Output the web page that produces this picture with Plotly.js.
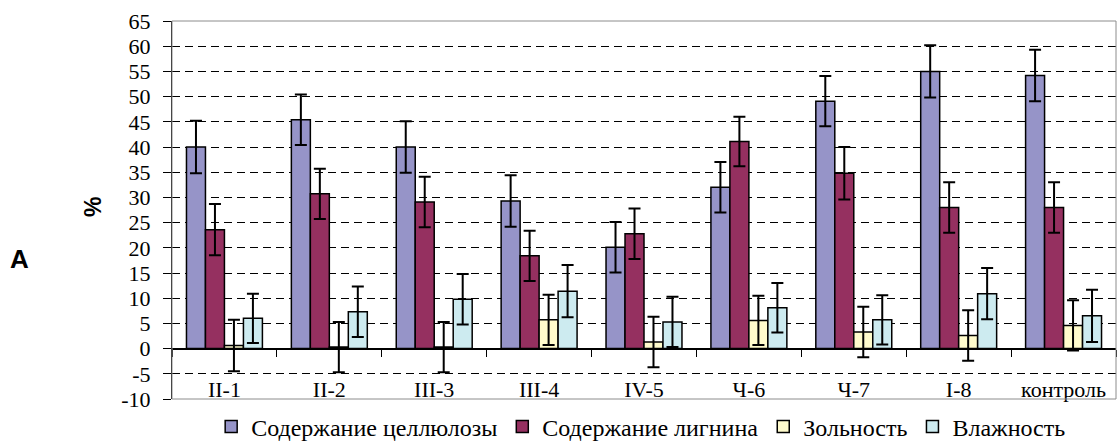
<!DOCTYPE html>
<html>
<head>
<meta charset="utf-8">
<script src="https://cdn.plot.ly/plotly-3.0.1.min.js"></script>
<style>html,body{margin:0;padding:0;background:#fff;}#chart{width:1117px;height:445px;}</style>
</head>
<body>
<div id="chart"></div>
<script>
const categories = ["II-1", "II-2", "III-3", "III-4", "IV-5", "Ч-6", "Ч-7", "I-8", "контроль"];
const seriesNames = ["Содержание целлюлозы", "Содержание лигнина", "Зольность", "Влажность"];
const cellulose = [40, 45.4, 40, 29.3, 20.1, 32, 49.1, 55, 54.2];
const celluloseErr = [5.2, 5.0, 5.1, 5.1, 5.0, 5.0, 5.0, 5.2, 5.1];
const lignin = [23.6, 30.7, 29.1, 18.4, 22.8, 41.1, 34.8, 28, 28];
const ligninErr = [5.1, 5.0, 5.0, 5.0, 5.0, 4.9, 5.2, 5.0, 5.0];
const ash = [0.6, 0.3, 0.3, 5.7, 1.3, 5.6, 3.3, 2.6, 4.6];
const ashErr = [5.1, 5.0, 5.0, 5.0, 5.0, 4.9, 5.0, 5.0, 5.0];
const moisture = [6, 7.3, 9.8, 11.4, 5.3, 8.1, 5.7, 10.9, 6.5];
const moistureErr = [4.9, 5.0, 5.0, 5.2, 5.0, 4.9, 4.9, 5.1, 5.2];
const yTicks = [-10, -5, 0, 5, 10, 15, 20, 25, 30, 35, 40, 45, 50, 55, 60, 65];

const colors = ["#9694C8", "#953060", "#FFFBCC", "#CDEBF0"];
const values = [cellulose, lignin, ash, moisture];
const errs = [celluloseErr, ligninErr, ashErr, moistureErr];

const serif = "Liberation Serif";
const sans = "Liberation Sans";
const traces = values.map((v, i) => ({
  type: "bar",
  name: seriesNames[i],
  x: categories,
  y: v,
  marker: {color: colors[i], line: {color: "#000", width: 1.5}},
  error_y: {type: "data", array: errs[i], visible: true, color: "#000", thickness: 2, width: 6},
  hoverinfo: "none"
}));

const layout = {
  width: 1117, height: 445,
  margin: {l: 172, r: 1, t: 21, b: 46, autoexpand: false},
  paper_bgcolor: "#fff", plot_bgcolor: "#fff",
  font: {family: serif, color: "#000"},
  barmode: "group",
  bargap: 0.276,
  bargroupgap: 0,
  showlegend: true,
  legend: {
    orientation: "h", x: 0.497, xanchor: "center", y: -0.074, yanchor: "middle",
    font: {family: serif, size: 24, color: "#000"},
    traceorder: "normal"
  },
  xaxis: {
    type: "category",
    anchor: "free", position: 10 / 75,
    showline: true, linecolor: "#000", linewidth: 1,
    ticks: "outside", ticklen: 7, tickcolor: "#000", tickwidth: 1,
    tickson: "boundaries",
    ticklabelstandoff: 21,
    showgrid: false, zeroline: false,
    tickfont: {family: serif, size: 22, color: "#000"}
  },
  yaxis: {
    range: [-10, 65],
    tickvals: yTicks,
    ticktext: yTicks.map(String),
    showline: true, linecolor: "#000", linewidth: 1,
    ticks: "outside", ticklen: 8, tickcolor: "#000", tickwidth: 1,
    ticklabelstandoff: 8,
    showgrid: true, gridcolor: "#000", gridwidth: 1, griddash: "8px,5px",
    zeroline: true, zerolinecolor: "#000", zerolinewidth: 1,
    tickfont: {family: serif, size: 22, color: "#000"}
  },
  shapes: [{
    type: "rect", xref: "paper", yref: "paper", x0: 0, x1: 1, y0: 0, y1: 1,
    line: {color: "#8c8c8c", width: 1}, fillcolor: "rgba(0,0,0,0)", layer: "above"
  }],
  annotations: [
    {text: "%", xref: "paper", yref: "paper", x: (93 - 172) / 944, y: (399 - 207) / 378,
     xanchor: "center", yanchor: "middle", textangle: -90, showarrow: false,
     font: {family: sans, size: 23, color: "#000", weight: "bold"}},
    {text: "A", xref: "paper", yref: "paper", x: (19 - 172) / 944, y: (399 - 259) / 378,
     xanchor: "center", yanchor: "middle", showarrow: false,
     font: {family: sans, size: 26, color: "#000", weight: "bold"}}
  ]
};

Plotly.newPlot("chart", traces, layout, {displayModeBar: false, staticPlot: true});
</script>
</body>
</html>
